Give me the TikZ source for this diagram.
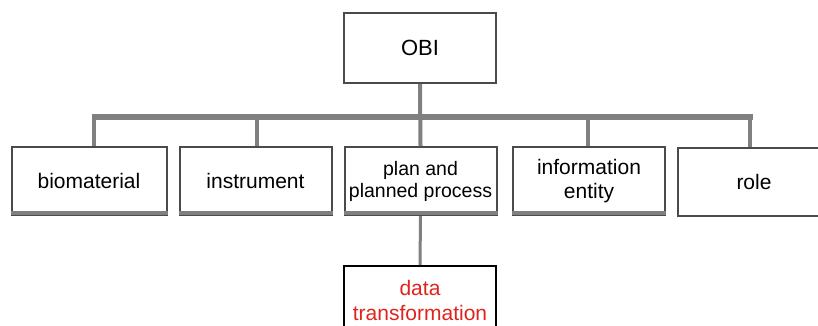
\documentclass[tikz,border=0pt]{standalone}
\usepackage{fontspec}
\setmainfont{Liberation Sans}
\definecolor{obired}{RGB}{225,35,30}
\definecolor{boxline}{RGB}{75,75,75}
\definecolor{conn}{RGB}{128,128,128}
\tikzset{
  box/.style={draw=boxline, line width=2pt, fill=white, minimum width=152pt, minimum height=68pt,
    align=center, inner sep=0pt, font=\fontsize{21}{24}\selectfont},
  bottomedge/.style={draw=conn, line width=4pt},
  link/.style={draw=conn, line width=4pt},
  trunk/.style={draw=conn, line width=6pt},
}
\begin{document}
\begin{tikzpicture}[x=1pt,y=-1pt]
\useasboundingbox (0,0) rectangle (818,326);
\node[box, minimum height=70pt, font=\fontsize{22}{26}\selectfont] (obi) at (420,48) {OBI};
\node[box, minimum width=155pt] (bio) at (89,181) {biomaterial};
\node[box] (ins) at (255.5,181) {instrument};
\node[box, font=\fontsize{19.5}{22}\selectfont] (plan) at (420.5,181) {plan and\\planned process};
\node[box] (info) at (589,181) {information\\entity};
\node[box] (role) at (754,182) {role};
\node[box, text=obired, draw=black, font=\fontsize{21}{25}\selectfont] (data) at (420,300) {data\\transformation};
\coordinate (barL) at (92,117);
\coordinate (barR) at (753,117);
\draw[trunk] (barL) -- (barR);
\draw[link] (obi.south) -- (plan.north);
\draw[link] ([xshift=5pt]bio.north) -- ([xshift=5pt]bio.north |- barL);
\draw[link] ([xshift=1.5pt]ins.north) -- ([xshift=1.5pt]ins.north |- barL);
\draw[link] ([xshift=-1pt]info.north) -- ([xshift=-1pt]info.north |- barL);
\draw[link] ([xshift=-4pt]role.north) -- ([xshift=-4pt]role.north |- barL);
\draw[link, line width=3pt] (plan.south) -- (data.north);
\foreach \n in {bio,ins,plan,info}{
  \draw[bottomedge] ([yshift=3pt]\n.south west) -- ([yshift=3pt]\n.south east);
}
\end{tikzpicture}
\end{document}
